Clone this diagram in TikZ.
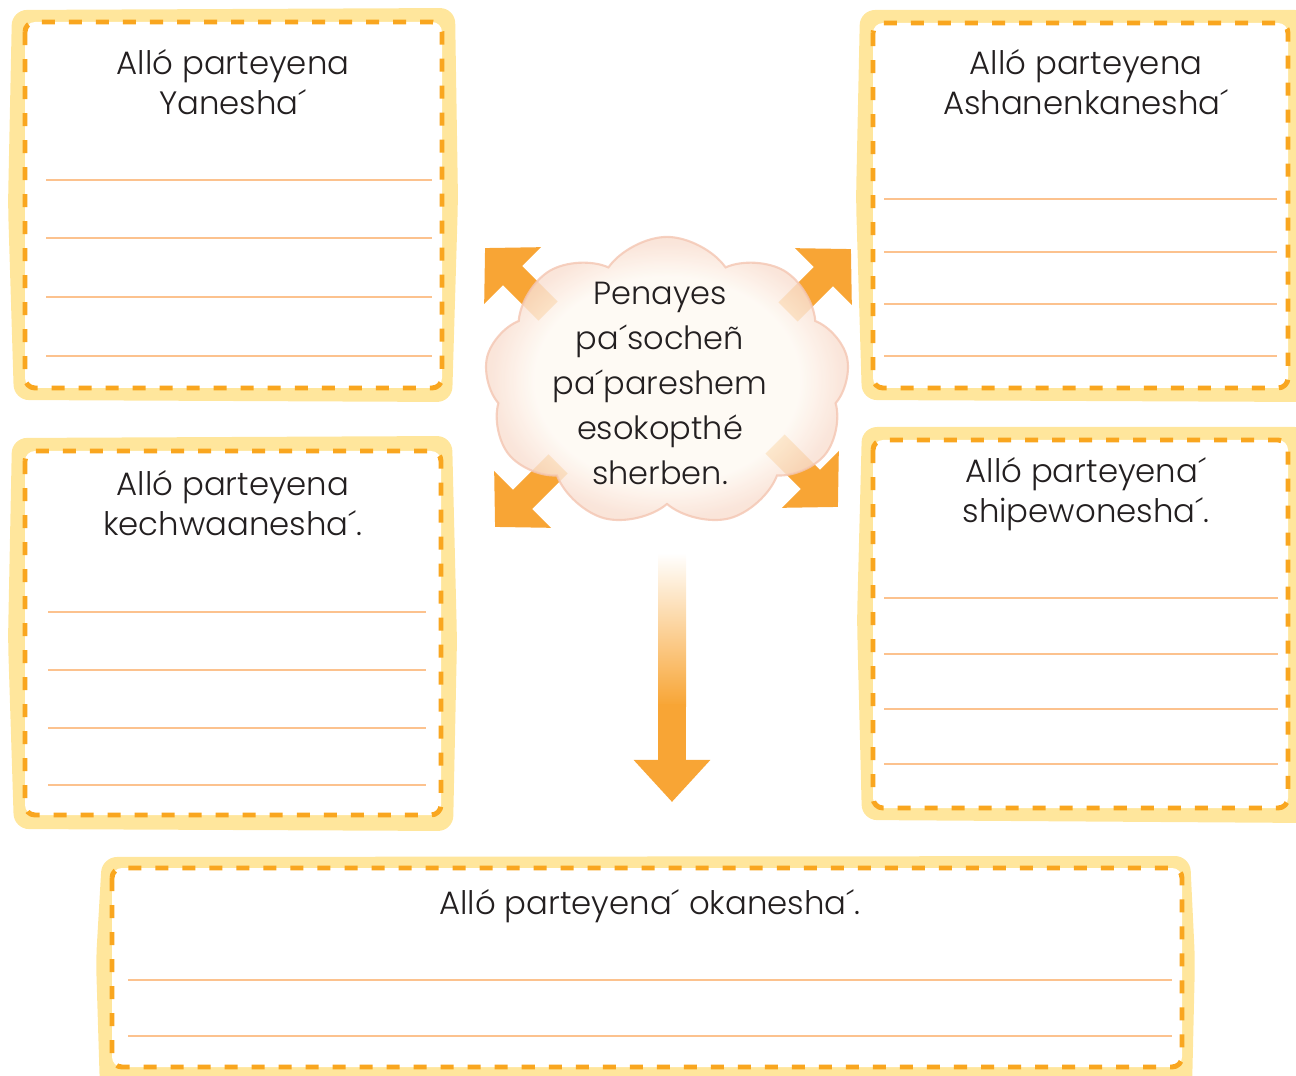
\documentclass[tikz,border=0pt]{standalone}
\usepackage{fontspec}
\IfFontExistsTF{Poppins Light}{\setmainfont{Poppins Light}}{\setmainfont{Poppins}}
\usepackage{tikz}
\usetikzlibrary{arrows.meta,shapes.symbols,calc}
\definecolor{paper}{HTML}{FFE69C}
\definecolor{dashc}{HTML}{F9A61F}
\definecolor{linec}{HTML}{FCC28E}
\definecolor{arrowc}{HTML}{F8A535}
\definecolor{inkc}{HTML}{231F20}
\definecolor{cloudin}{HTML}{FEF9F2}
\definecolor{cloudrim}{HTML}{F4C6B2}
\pgfdeclareradialshading{cloudglow}{\pgfpoint{0bp}{0bp}}{color(0bp)=(cloudin); color(18bp)=(cloudin); color(24bp)=(cloudrim!50!cloudin); color(50bp)=(cloudrim)}
\tikzset{
  frame/.style={fill=paper,rounded corners=1.5mm},
  sheet/.style={draw=dashc,fill=white,line width=1.4pt,dash pattern=on 1.3mm off 1.4mm,rounded corners=1mm},
  wline/.style={draw=linec,line width=0.7pt},
  boxtitle/.style={font=\fontsize{9.2}{11.2}\selectfont,text=inkc,align=center,inner sep=0pt},
  cloudtext/.style={font=\fontsize{9.1}{12.8}\selectfont,text=inkc,align=center,inner sep=0pt},
  burst/.style={-{Triangle[length=3.9mm,width=7.8mm]},draw=arrowc,line width=7.7pt},
  drop/.style={-{Triangle[length=4.2mm,width=7.4mm]},draw=arrowc,line width=8pt},
}
\begin{document}
\begin{tikzpicture}[x=0.01cm,y=-0.01cm]
  \useasboundingbox (0,0) rectangle (1296,1076);
  % yellow frames
  \fill[frame] (12,10) -- (455,8) -- (458,200) -- (452,402) -- (14,400) -- (8,205) -- cycle;
  \fill[frame] (860,10) -- (1310,10) -- (1310,402) -- (862,400) -- (856,200) -- cycle;
  \fill[frame] (12,438) -- (452,436) -- (457,640) -- (453,831) -- (14,829) -- (8,640) -- cycle;
  \fill[frame] (862,427) -- (1310,427) -- (1310,823) -- (862,820) -- (857,620) -- cycle;
  \fill[frame] (102,857) -- (1190,856) -- (1195,960) -- (1192,1090) -- (100,1090) -- (96,960) -- cycle;
  % dashed sheets
  \draw[sheet] (25,22) rectangle (442,388);
  \draw[sheet] (873,23) rectangle (1288,388);
  \draw[sheet] (25,451) rectangle (441,815);
  \draw[sheet] (873,440) rectangle (1288,808);
  \draw[sheet] (112,868) rectangle (1182,1067);
  % writing lines
  \foreach \y in {180,238,297,356}{ \draw[wline] (46,\y) -- (432,\y); }
  \foreach \y in {199,252,304,356}{ \draw[wline] (884,\y) -- (1277,\y); }
  \foreach \y in {612,670,728,785}{ \draw[wline] (48,\y) -- (426,\y); }
  \foreach \y in {598,654,709,764}{ \draw[wline] (884,\y) -- (1278,\y); }
  \foreach \y in {980,1036}{ \draw[wline] (128,\y) -- (1172,\y); }
  % titles
  \node[boxtitle] (yan) at (233,82)  {Alló parteyena\\Yanesha´};
  \node[boxtitle] (ash) at (1086,82) {Alló parteyena\\Ashanenkanesha´};
  \node[boxtitle] (kec) at (233,503) {Alló parteyena\\kechwaanesha´.};
  \node[boxtitle] (shi) at (1086,494) {Alló parteyena´\\shipewonesha´.};
  \node[boxtitle] (oka) at (650,906) {Alló parteyena´ okanesha´.};
  % corner arrows, under the cloud
  \coordinate (nwroot) at (548,311); \coordinate (nwtip) at (485,248);
  \coordinate (neroot) at (788,312); \coordinate (netip) at (851,249);
  \coordinate (swroot) at (558,464); \coordinate (swtip) at (495,527);
  \coordinate (seroot) at (775,444); \coordinate (setip) at (838,507);
  \foreach \c in {nw,ne,sw,se}{ \draw[burst] (\c root) -- (\c tip); }
  % cloud
  \node[cloud,cloud puffs=9,cloud puff arc=110,aspect=1.25,minimum width=3.65cm,minimum height=2.9cm,
        shading=cloudglow,draw=cloudrim,line width=0.6pt,fill opacity=0.82,draw opacity=0.8] (cloud) at (667,382) {};
  \node[cloudtext] (idea) at (660,383) {Penayes\\pa´socheñ\\pa´pareshem\\esokopthé\\sherben.};
  % arrow down to the last box
  \coordinate (dtop) at (672,553);
  \coordinate (dmid) at (672,704);
  \coordinate (dtip) at (672,802);
  \shade[top color=white,bottom color=arrowc] ($(dtop)+(-14,0)$) rectangle ($(dmid)+(14,2)$);
  \draw[drop] (dmid) -- (dtip);
\end{tikzpicture}
\end{document}
